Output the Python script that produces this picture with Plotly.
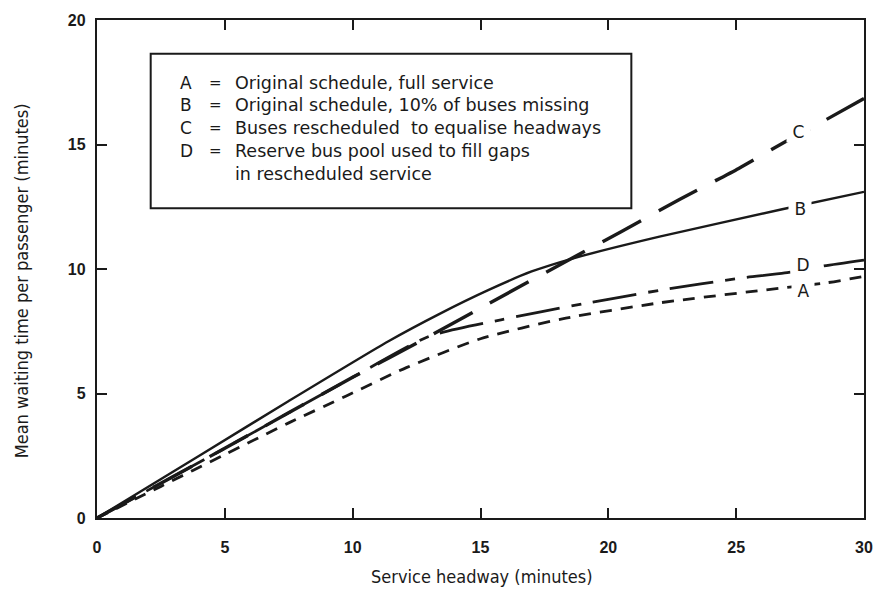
import plotly.graph_objects as go

# Mean waiting time per passenger vs. service headway, four operating strategies
a_x = [0, 2.5, 5, 7.5, 9.75, 12.1, 15.0, 18.2, 22.0, 26.8, 28.5, 30]
a_y = [0, 1.27, 2.55, 3.82, 4.9, 6.04, 7.2, 8.0, 8.64, 9.24, 9.44, 9.7]

b_x = [0, 4, 7.5, 11.4, 13.4, 15.3, 17.0, 18.7, 22.0, 26.8, 30]
b_y = [0, 2.5, 4.7, 7.1, 8.2, 9.15, 9.9, 10.45, 11.3, 12.4, 13.1]

c_x = [0, 5, 10, 13, 15.3, 18.7, 20.5, 22.8, 25.1, 26.8, 28.1, 30]
c_y = [0, 2.8, 5.65, 7.3, 8.6, 10.5, 11.5, 12.8, 14.04, 15.04, 15.76, 16.85]

d_x = [0, 5, 10, 13, 15.8, 19.0, 22.1, 25.2, 26.9, 28.4, 30]
d_y = [0, 2.8, 5.65, 7.3, 7.96, 8.6, 9.16, 9.64, 9.84, 10.12, 10.36]

curve_labels = ["C", "B", "D", "A"]
label_x = [27.45, 27.5, 27.6, 27.6]
label_y = [15.5, 12.4, 10.15, 9.1]

legend_keys = ["A", "B", "C", "D", ""]
legend_eq = ["=", "=", "=", "=", ""]
legend_text = [
    "Original schedule, full service",
    "Original schedule, 10% of buses missing",
    "Buses rescheduled  to equalise headways",
    "Reserve bus pool used to fill gaps",
    "in rescheduled service",
]

FONT = "DejaVu Sans, Liberation Sans, sans-serif"
COND = "DejaVu Sans Condensed, DejaVu Sans, sans-serif"
TICKFONT = "Liberation Sans, Arial, sans-serif"
INK = "#1a1a1a"

fig = go.Figure()

series = [
    (a_x, a_y, dict(color=INK, width=2.8, dash="12px,9px")),
    (b_x, b_y, dict(color=INK, width=2.4)),
    (c_x, c_y, dict(color=INK, width=3.4, dash="44px,20px")),
    (d_x, d_y, dict(color=INK, width=2.8, dash="44px,12px,10px,12px")),
]
for xs, ys, ln in series:
    ln["shape"] = "spline"
    ln["smoothing"] = 0.6
    fig.add_trace(go.Scatter(x=xs, y=ys, mode="lines", line=ln,
                             showlegend=False, hoverinfo="skip"))

# curve letters sit on white so the lines break around them
for t, x, y in zip(curve_labels, label_x, label_y):
    fig.add_annotation(x=x, y=y, text=" " + t + " ", showarrow=False,
                       font=dict(family=FONT, size=17, color=INK),
                       bgcolor="white", borderpad=0)

# key box
fig.add_shape(type="rect", x0=2.1, x1=20.9, y0=12.44, y1=18.64,
              line=dict(color=INK, width=2), fillcolor="white", layer="above")

px_per_y = 503 / 20.0
row_top = 18.64 - (81 - 52) / px_per_y
row_step = 23 / px_per_y
for i, (k, e, t) in enumerate(zip(legend_keys, legend_eq, legend_text)):
    yy = row_top - i * row_step
    if k:
        fig.add_annotation(x=3.15, y=yy, text=k, showarrow=False, xanchor="left",
                           font=dict(family=FONT, size=17, color=INK))
        fig.add_annotation(x=4.3, y=yy, text=e, showarrow=False, xanchor="left",
                           font=dict(family=FONT, size=15, color=INK))
    fig.add_annotation(x=5.3, y=yy, text=t, showarrow=False, xanchor="left",
                       font=dict(family=FONT, size=17.5, color=INK))

axis_common = dict(
    showline=True, linecolor=INK, linewidth=2.4, mirror="ticks",
    ticks="inside", ticklen=10, tickwidth=2, tickcolor=INK,
    showgrid=False, zeroline=False,
    tickfont=dict(family=TICKFONT, size=16, color=INK, weight="bold"),
)

fig.update_xaxes(range=[0, 30], tickvals=[0, 5, 10, 15, 20, 25, 30],
                 ticklabelstandoff=14, **axis_common)
fig.update_yaxes(range=[0, 20], tickvals=[0, 5, 10, 15, 20],
                 ticklabelstandoff=6, **axis_common)

# axis titles
fig.add_annotation(xref="paper", yref="paper", x=0.502, y=-0.118,
                   text="Service headway (minutes)", showarrow=False,
                   xanchor="center", yanchor="middle",
                   font=dict(family=COND, size=18, color=INK))
fig.add_annotation(xref="paper", yref="paper", x=-0.098, y=0.477,
                   text="Mean waiting time per passenger (minutes)",
                   showarrow=False, textangle=-90,
                   xanchor="center", yanchor="middle",
                   font=dict(family=COND, size=18, color=INK))

fig.update_layout(
    width=885, height=589,
    margin=dict(l=97, r=19, t=15, b=71),
    paper_bgcolor="white", plot_bgcolor="white",
    showlegend=False,
)

fig.write_html("out.html")
